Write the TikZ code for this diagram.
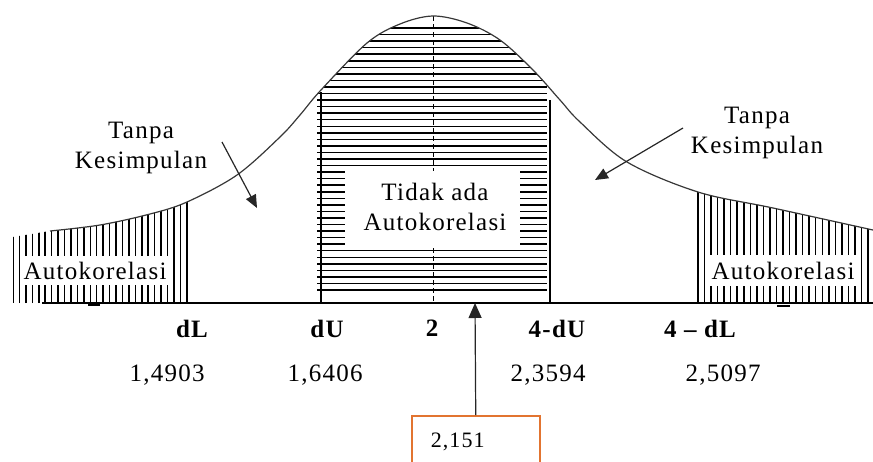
\documentclass[tikz,border=0pt]{standalone}
\usepackage{fontspec}
\setmainfont{Liberation Serif}[LetterSpace=5]
\usetikzlibrary{arrows.meta}
\definecolor{boxorange}{RGB}{226,116,48}
\definecolor{curvegray}{RGB}{55,55,55}
% the bell curve of the Durbin-Watson test
\newcommand\bellcurve{plot[smooth, tension=0.55] coordinates {(50,231) (100,225) (150,214) (187,202) (237,175) (280,137) (300,115) (321,90) (367,43) (400,24) (433,16) (467,23) (500,40) (533,70) (560,100) (580,122) (627,162) (698,192) (773,208) (873,230)}}
\tikzset{
  hatch/.style   ={line width=1.5pt, black},
  bellline/.style={line width=1.2pt, curvegray},
  axisline/.style={line width=1.5pt, black},
  midline/.style ={line width=1pt, black, dash pattern=on 5pt off 3pt},
  lbl/.style     ={font=\fontsize{25}{30}\selectfont, inner sep=0pt, align=center, anchor=north},
  axlbl/.style   ={lbl, font=\fontsize{25}{30}\selectfont\bfseries},
  pointer/.style ={line width=1.2pt, black!85, -{Triangle[length=13pt, width=11pt]}},
  dwbox/.style   ={draw=boxorange, line width=1.5pt, anchor=north west, font=\fontsize{22}{26}\selectfont,
                   inner xsep=19pt, inner ysep=17pt, text width=90pt, align=left,
                   text height=15pt, text depth=40pt},
}
\begin{document}
\begin{tikzpicture}[x=1pt, y=-1pt]
    \useasboundingbox (0,0) rectangle (873,461);
    % hatching under the curve
    \begin{scope}
        \clip \bellcurve -- (873,303) -- (13,303) -- (13,237) -- cycle;
        \foreach \k in {0,...,27}
            \draw[hatch] ({13+6.44*\k},303) -- ({13+6.44*\k},0);
        \foreach \k in {0,...,26}
            \draw[hatch] ({698+6.54*\k},303) -- ({698+6.54*\k},0);
        \foreach \k in {0,...,40}
            \draw[hatch] (317,{28+6.55*\k}) -- (547,{28+6.55*\k});
    \end{scope}
    \draw[midline] (433,16) -- (433,303);
    % white fields behind the texts
    \fill[white] (22,256) rectangle (170,285);
    \fill[white] (708,255) rectangle (857,286);
    \fill[white] (345,171) rectangle (520,247);
    \draw[bellline] \bellcurve;
    \draw[axisline] (42,303) -- (873,303);
    \draw[hatch] (321,92) -- (321,303);
    \draw[hatch] (550,100) -- (550,303);
    \draw[line width=2pt] (88,305) -- (100,305);
    \draw[line width=2pt] (777,306) -- (790,306);
    % texts
    \node[lbl] (tkleft)    at (141,122) {Tanpa\\Kesimpulan};
    \node[lbl] (tkright)   at (757,107) {Tanpa\\Kesimpulan};
    \node[lbl] (autoleft)  at (95,262)  {Autokorelasi};
    \node[lbl] (autoright) at (783,262) {Autokorelasi};
    \node[lbl] (noauto)    at (435,183) {Tidak ada\\Autokorelasi};
    \node[axlbl] (dL)   at (192,320) {dL};
    \node[axlbl] (dU)   at (327,320) {dU};
    \node[axlbl] (two)  at (432,320) {2};
    \node[axlbl] (fdU)  at (557,320) {4-dU};
    \node[axlbl] (fdL)  at (700,320) {4 -- dL};
    \node[lbl] (vdL)  at (167,365) {1,4903};
    \node[lbl] (vdU)  at (325,365) {1,6406};
    \node[lbl] (vfdU) at (548,365) {2,3594};
    \node[lbl] (vfdL) at (723,365) {2,5097};
    % arrows
    \coordinate (tkLfrom) at (222,142);
    \coordinate (tkLto)   at (257,208);
    \coordinate (tkRfrom) at (683,128);
    \coordinate (tkRto)   at (595,180);
    \draw[pointer] (tkLfrom) -- (tkLto);
    \draw[pointer] (tkRfrom) -- (tkRto);
    \node[dwbox] (dwval) at (411,415) {2,151};
    \coordinate (dwhit) at (475,303);
    \draw[pointer, -{Triangle[length=15pt, width=13pt]}] (dwval.north) -- (dwhit);
\end{tikzpicture}
\end{document}
